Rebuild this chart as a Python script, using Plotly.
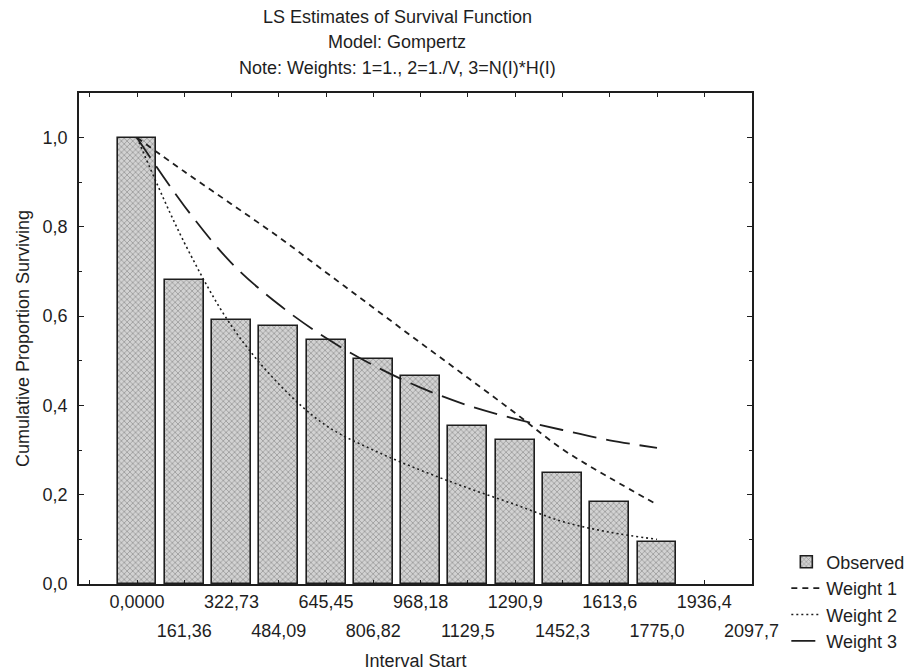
import plotly.graph_objects as go

# ---- data ----
interval_start = [0.0, 161.36, 322.73, 484.09, 645.45, 806.82, 968.18,
                  1129.5, 1290.9, 1452.3, 1613.6, 1775.0, 1936.4, 2097.7]
tick_labels = ["0,0000", "161,36", "322,73", "484,09", "645,45", "806,82", "968,18",
               "1129,5", "1290,9", "1452,3", "1613,6", "1775,0", "1936,4", "2097,7"]
observed = [1.0, 0.682, 0.591, 0.578, 0.546, 0.505, 0.465,
            0.355, 0.323, 0.249, 0.184, 0.093]
weight1 = [1.0, 0.924, 0.851, 0.777, 0.698, 0.619, 0.540,
           0.462, 0.383, 0.302, 0.238, 0.178]
weight2 = [1.0, 0.765, 0.578, 0.448, 0.355, 0.300, 0.255,
           0.215, 0.178, 0.140, 0.116, 0.100]
weight3 = [1.0, 0.847, 0.719, 0.626, 0.551, 0.490, 0.440,
           0.400, 0.370, 0.345, 0.322, 0.305]
title_lines = ["LS Estimates of Survival Function",
               "Model: Gompertz",
               "Note: Weights: 1=1., 2=1./V, 3=N(I)*H(I)"]

n = len(observed)
xs = interval_start[:n]
FONT = "Liberation Sans, Arial, sans-serif"
INK = "#1e1e1e"
XRANGE = [-198, 2099.3]

fig = go.Figure()
fig.add_trace(go.Bar(
    x=xs, y=observed, width=133, name="Observed",
    marker=dict(color="#c8c8c8",
                line=dict(color=INK, width=1.6),
                pattern=dict(shape="x", size=4, solidity=0.35,
                             fgcolor="#5a5a5a", bgcolor="#d2d2d2")),
))
fig.add_trace(go.Scatter(x=xs, y=weight1, mode="lines", name="Weight 1",
                         line=dict(color=INK, width=1.8, dash="6px,5px", shape="spline")))
fig.add_trace(go.Scatter(x=xs, y=weight2, mode="lines", name="Weight 2",
                         line=dict(color=INK, width=1.6, dash="2px,3px", shape="spline")))
fig.add_trace(go.Scatter(x=xs, y=weight3, mode="lines", name="Weight 3",
                         line=dict(color=INK, width=1.8, dash="24px,10px", shape="spline")))
# carrier for the second (lower) row of x tick labels
fig.add_trace(go.Scatter(x=xs, y=observed, mode="none", xaxis="x2",
                         showlegend=False, hoverinfo="skip"))

odd_vals = [v for i, v in enumerate(interval_start) if i % 2 == 1]
odd_text = [t for i, t in enumerate(tick_labels) if i % 2 == 1]

PLOT_T, PLOT_B = 93, 584
H = PLOT_B - PLOT_T
for line, ypx in zip(title_lines, [17, 42, 68]):
    fig.add_annotation(text=line, xref="paper", yref="paper",
                       x=(397 - 79) / 673, y=(PLOT_B - ypx) / H,
                       xanchor="center", yanchor="middle", showarrow=False,
                       font=dict(size=18, color=INK, family=FONT))

fig.update_layout(
    width=907, height=671,
    margin=dict(l=79, r=155, t=93, b=87, autoexpand=False),
    paper_bgcolor="white", plot_bgcolor="white",
    font=dict(family=FONT, size=18, color=INK),
    separators=", ",
    bargap=0,
    showlegend=True,
    legend=dict(x=1.051, y=0.0825, xanchor="left", yanchor="top",
                bgcolor="rgba(0,0,0,0)", font=dict(size=18, color=INK),
                tracegroupgap=0, itemwidth=30),
    xaxis=dict(range=XRANGE, tickmode="array",
               tickvals=[-161.36] + interval_start,
               ticktext=[""] + [t if i % 2 == 0 else "" for i, t in enumerate(tick_labels)],
               ticks="inside", ticklen=4, tickcolor=INK, ticklabelstandoff=1,
               showline=True, linecolor=INK, linewidth=1.6, mirror="ticks",
               showgrid=False, zeroline=False, tickangle=0,
               title=dict(text="Interval Start", font=dict(size=18), standoff=60),
               tickfont=dict(size=18)),
    xaxis2=dict(range=XRANGE, overlaying="x", side="bottom", anchor="y",
                tickmode="array", tickvals=odd_vals, ticktext=odd_text,
                ticks="", ticklabelstandoff=34, tickangle=0,
                showline=False, showgrid=False, zeroline=False,
                tickfont=dict(size=18)),
    yaxis=dict(range=[0, 1.1], dtick=0.2, tick0=0, tickformat=".1f",
               ticks="inside", ticklen=5, tickcolor=INK, ticklabelstandoff=6,
               minor=dict(dtick=0.1, ticks="inside", ticklen=3, tickcolor=INK),
               showline=True, linecolor=INK, linewidth=1.6, mirror="ticks",
               showgrid=False, zeroline=False,
               title=dict(text="Cumulative Proportion Surviving", font=dict(size=18), standoff=8),
               tickfont=dict(size=18)),
)

fig.write_html("out.html")
